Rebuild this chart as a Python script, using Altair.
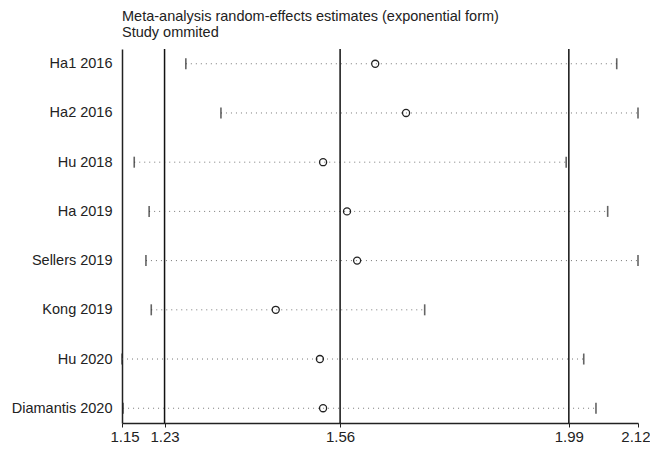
import altair as alt
import pandas as pd

studies = ["Ha1 2016", "Ha2 2016", "Hu 2018", "Ha 2019", "Sellers 2019",
           "Kong 2019", "Hu 2020", "Diamantis 2020"]
estimate = [1.626, 1.684, 1.528, 1.573, 1.592, 1.439, 1.522, 1.528]
lower = [1.270, 1.336, 1.173, 1.201, 1.195, 1.205, 1.150, 1.152]
upper = [2.080, 2.120, 1.985, 2.063, 2.120, 1.719, 2.018, 2.041]
ref_lines = [1.23, 1.56, 1.99]
tick_values = [1.15, 1.23, 1.56, 1.99, 2.12]

df = pd.DataFrame({"study": studies, "est": estimate, "lo": lower, "hi": upper})
ref = pd.DataFrame({"v": ref_lines})

FONT = "Liberation Sans"

xscale = alt.Scale(domain=[1.15, 2.12], nice=False, zero=False)
yscale = alt.Scale(type="point", padding=0.3, domain=studies)

x_enc = alt.X("lo:Q", scale=xscale,
              axis=alt.Axis(values=tick_values, format=".2f", title=None, grid=False,
                            tickSize=4, tickColor="#222", domainColor="#222",
                            labelFont=FONT, labelFontSize=15, labelColor="#222",
                            labelPadding=2, labelFlush=True, labelFlushOffset=12,
                            domainWidth=1.5))
y_enc = alt.Y("study:N", scale=yscale, sort=studies,
              axis=alt.Axis(title=None, ticks=False, domainColor="#222", domainWidth=1.5,
                            labelFont=FONT, labelFontSize=14.5, labelColor="#222",
                            labelPadding=10, grid=False))

base = alt.Chart(df)

dots = base.mark_rule(color="#777", strokeWidth=1, strokeDash=[1, 4]).encode(
    x=x_enc, x2="hi:Q", y=y_enc)

rules = alt.Chart(ref).mark_rule(color="#111", strokeWidth=1.5).encode(
    x=alt.X("v:Q", scale=xscale))

lo_ticks = base.mark_tick(color="#222", thickness=1.6, size=11, orient="vertical").encode(
    x=alt.X("lo:Q", scale=xscale), y=alt.Y("study:N", scale=yscale, sort=studies))
hi_ticks = base.mark_tick(color="#222", thickness=1.6, size=11, orient="vertical").encode(
    x=alt.X("hi:Q", scale=xscale), y=alt.Y("study:N", scale=yscale, sort=studies))

pts = base.mark_point(shape="circle", filled=False, color="#222", size=50,
                      strokeWidth=1.3, opacity=1).encode(
    x=alt.X("est:Q", scale=xscale), y=alt.Y("study:N", scale=yscale, sort=studies))

chart = alt.layer(dots, rules, lo_ticks, hi_ticks, pts).properties(
    width=516, height=374,
    autosize=alt.AutoSizeParams(type="none"),
    padding={"left": 114, "top": 41, "right": 12, "bottom": 20},
    title=alt.TitleParams(
        text=["Meta-analysis random-effects estimates (exponential form)", "Study ommited"],
        anchor="start", frame="group", font=FONT, fontSize=14.5, fontWeight="normal",
        color="#222", lineHeight=16, offset=8),
    background="white",
).configure_view(stroke=None)

chart.save("out.html", embed_options={"renderer": "svg", "actions": False})
